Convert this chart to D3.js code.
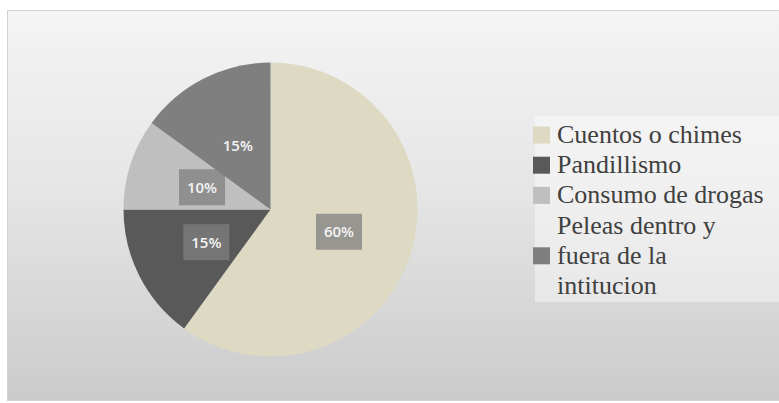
<!DOCTYPE html>
<html>
<head>
<meta charset="utf-8">
<script src="https://cdn.jsdelivr.net/npm/d3@7"></script>
<style>
  html, body { margin: 0; padding: 0; background: #ffffff; }
  svg { display: block; }
  .legtext { font-family: "Liberation Serif", "Times New Roman", Times, "DejaVu Serif", serif; font-size: 26px; }
  .pct { font-family: "Open Sans", sans-serif; font-size: 15px; font-weight: 600; }
</style>
</head>
<body>
<svg id="chart" width="779" height="403"></svg>
<script>
// ---- data ----
const categories = ["Cuentos o chimes", "Pandillismo", "Consumo de drogas", "Peleas dentro y fuera de la intitucion"];
const values = [60, 15, 10, 15];
const labels = ["60%", "15%", "10%", "15%"];
const colors = ["#ddd9c3", "#595959", "#bfbfbf", "#7f7f7f"];

// ---- layout ----
const W = 779, H = 403;
const cx = 270.5, cy = 209.5, R = 147, labelR = 72;

const svg = d3.select("#chart");
const defs = svg.append("defs");
const grad = defs.append("linearGradient").attr("id", "bg").attr("x1", 0).attr("y1", 0).attr("x2", 0).attr("y2", 1);
grad.append("stop").attr("offset", "0%").attr("stop-color", "#f4f4f4");
grad.append("stop").attr("offset", "45%").attr("stop-color", "#e6e6e6");
grad.append("stop").attr("offset", "100%").attr("stop-color", "#cbcbcb");

svg.append("rect").attr("x", 7.5).attr("y", 10.5).attr("width", W - 7).attr("height", 390)
  .attr("fill", "url(#bg)").attr("stroke", "#d4d4d4").attr("stroke-width", 1);

// legend background
svg.append("rect").attr("x", 535).attr("y", 116).attr("width", W - 535).attr("height", 186)
  .attr("fill", "#ffffff").attr("fill-opacity", 0.42);

const pie = d3.pie().sort(null).value(d => d)(values);
const arc = d3.arc().innerRadius(0).outerRadius(R);
const labelArc = d3.arc().innerRadius(labelR).outerRadius(labelR);

const g = svg.append("g").attr("transform", `translate(${cx},${cy})`);
g.selectAll("path.slice").data(pie).enter().append("path")
  .attr("class", "slice")
  .attr("d", arc)
  .attr("fill", (d, i) => colors[i]);

const lg = g.selectAll("g.lbl").data(pie).enter().append("g")
  .attr("class", "lbl")
  .attr("transform", d => `translate(${labelArc.centroid(d)})`);
lg.append("rect")
  .attr("x", -23).attr("y", -18).attr("width", 46).attr("height", 36)
  .attr("fill", "#7f7f7f").attr("fill-opacity", 0.75);
lg.append("text")
  .attr("class", "pct")
  .attr("text-anchor", "middle")
  .attr("dy", "0.36em")
  .attr("fill", "#f4f4f4")
  .text((d, i) => labels[i]);

// ---- legend ----
const legendX = 557, swX = 533, sw = 17, lineH = 30.2, firstBase = 143, maxW = 212;
const leg = svg.append("g");
let base = firstBase;
categories.forEach((cat, i) => {
  const words = cat.split(" ");
  const lines = [];
  const meas = leg.append("text").attr("class", "legtext");
  let cur = "";
  words.forEach(w => {
    const t = cur ? cur + " " + w : w;
    meas.text(t);
    if (meas.node().getComputedTextLength() > maxW && cur) { lines.push(cur); cur = w; }
    else cur = t;
  });
  lines.push(cur);
  meas.remove();
  const mid = base + (lines.length - 1) * lineH / 2;
  leg.append("rect").attr("x", swX).attr("y", mid - 8 - sw / 2).attr("width", sw).attr("height", sw)
    .attr("fill", colors[i]);
  lines.forEach((ln, k) => {
    leg.append("text")
      .attr("class", "legtext")
      .attr("x", legendX).attr("y", base + k * lineH)
      .attr("fill", "#404040")
      .text(ln);
  });
  base += lines.length * lineH;
});
</script>
</body>
</html>
